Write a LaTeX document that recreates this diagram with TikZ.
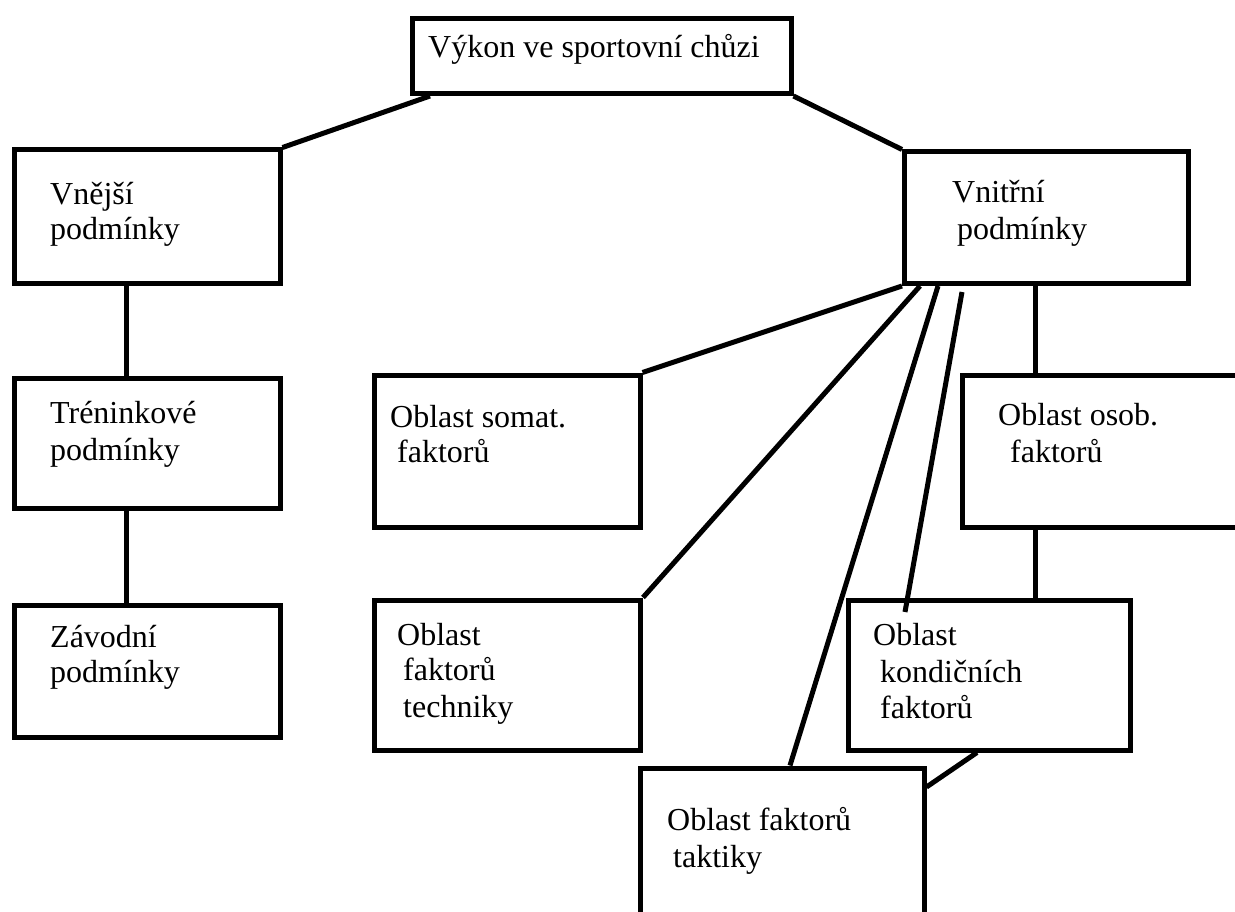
\documentclass[tikz,border=0pt]{standalone}
\usepackage{fontspec}
\setmainfont{Liberation Serif}
\usetikzlibrary{calc}
\tikzset{
  box/.style={draw=black, line width=5pt, fill=white, inner sep=0pt, anchor=north west},
  txt/.style={anchor=base west, inner sep=0pt, font=\fontsize{32}{36}\selectfont},
  conn/.style={draw=black, line width=5pt}
}
\begin{document}
\begin{tikzpicture}[x=1pt,y=-1pt]
\useasboundingbox (0,0) rectangle (1235,912);
\clip (0,0) rectangle (1235,912);
% boxes
\node[box, minimum width=379pt, minimum height=74.5pt] (top) at (409.5,16.5) {};
\node[box, minimum width=266pt, minimum height=134pt] (vne) at (11.5,147.5) {};
\node[box, minimum width=284pt, minimum height=131.5pt] (vni) at (902,149.5) {};
\node[box, minimum width=266pt, minimum height=130pt] (tre) at (11.5,375.5) {};
\node[box, minimum width=266pt, minimum height=132pt] (zav) at (11.5,602.5) {};
\node[box, minimum width=266pt, minimum height=152pt] (som) at (371.5,372.5) {};
\node[box, minimum width=300pt, minimum height=152pt] (oso) at (959.5,372.5) {};
\node[box, minimum width=266pt, minimum height=150pt] (tec) at (372,597.5) {};
\node[box, minimum width=282pt, minimum height=150pt] (kon) at (845.5,597.5) {};
\node[box, minimum width=284pt, minimum height=180pt] (tak) at (637.5,765.5) {};
% connectors
\draw[conn] ($(top.south west)+(20.5,0)$) -- (vne.north east);
\draw[conn] (top.south east) -- (vni.north west);
\draw[conn] ($(vne.south west)+(114.5,0)$) -- ($(tre.north west)+(114.5,0)$);
\draw[conn] ($(tre.south west)+(114.5,0)$) -- ($(zav.north west)+(114.5,0)$);
\draw[conn] (vni.south west) -- (som.north east);
\draw[conn] ($(vni.south west)+(18,0)$) -- (tec.north east);
\draw[conn] ($(vni.south west)+(36,0)$) -- ($(tak.north west)+(152.5,0)$);
\coordinate (fa) at (962,292);
\coordinate (fb) at (905,612);
\draw[conn] (fa) -- (fb);
\draw[conn] ($(vni.south west)+(133,0)$) -- ($(oso.north west)+(75.5,0)$);
\draw[conn] ($(oso.south west)+(75.5,0)$) -- ($(kon.north west)+(189.5,0)$);
\draw[conn] ($(kon.south west)+(131.5,0)$) -- ($(tak.north east)+(0,21.5)$);
% texts
\node[txt] (t1) at (428,58) {Výkon ve sportovní chůzi};
\node[txt] (t2) at (50,205) {Vnější};
\node[txt] (t3) at (50,240) {podmínky};
\node[txt] (t4) at (952,203) {Vnitřní};
\node[txt] (t5) at (957,240) {podmínky};
\node[txt] (t6) at (50,423) {Tréninkové};
\node[txt] (t7) at (50,460) {podmínky};
\node[txt] (t8) at (50,647) {Závodní};
\node[txt] (t9) at (50,682) {podmínky};
\node[txt] (t10) at (390,427) {Oblast somat.};
\node[txt] (t11) at (397,462) {faktorů};
\node[txt] (t12) at (998,425) {Oblast osob.};
\node[txt] (t13) at (1010,462) {faktorů};
\node[txt] (t14) at (397,645) {Oblast};
\node[txt] (t15) at (403,680) {faktorů};
\node[txt] (t16) at (403,717) {techniky};
\node[txt] (t17) at (873,645) {Oblast};
\node[txt] (t18) at (880,682) {kondičních};
\node[txt] (t19) at (880,718) {faktorů};
\node[txt] (t20) at (667,830) {Oblast faktorů};
\node[txt] (t21) at (673,867) {taktiky};
\end{tikzpicture}
\end{document}
